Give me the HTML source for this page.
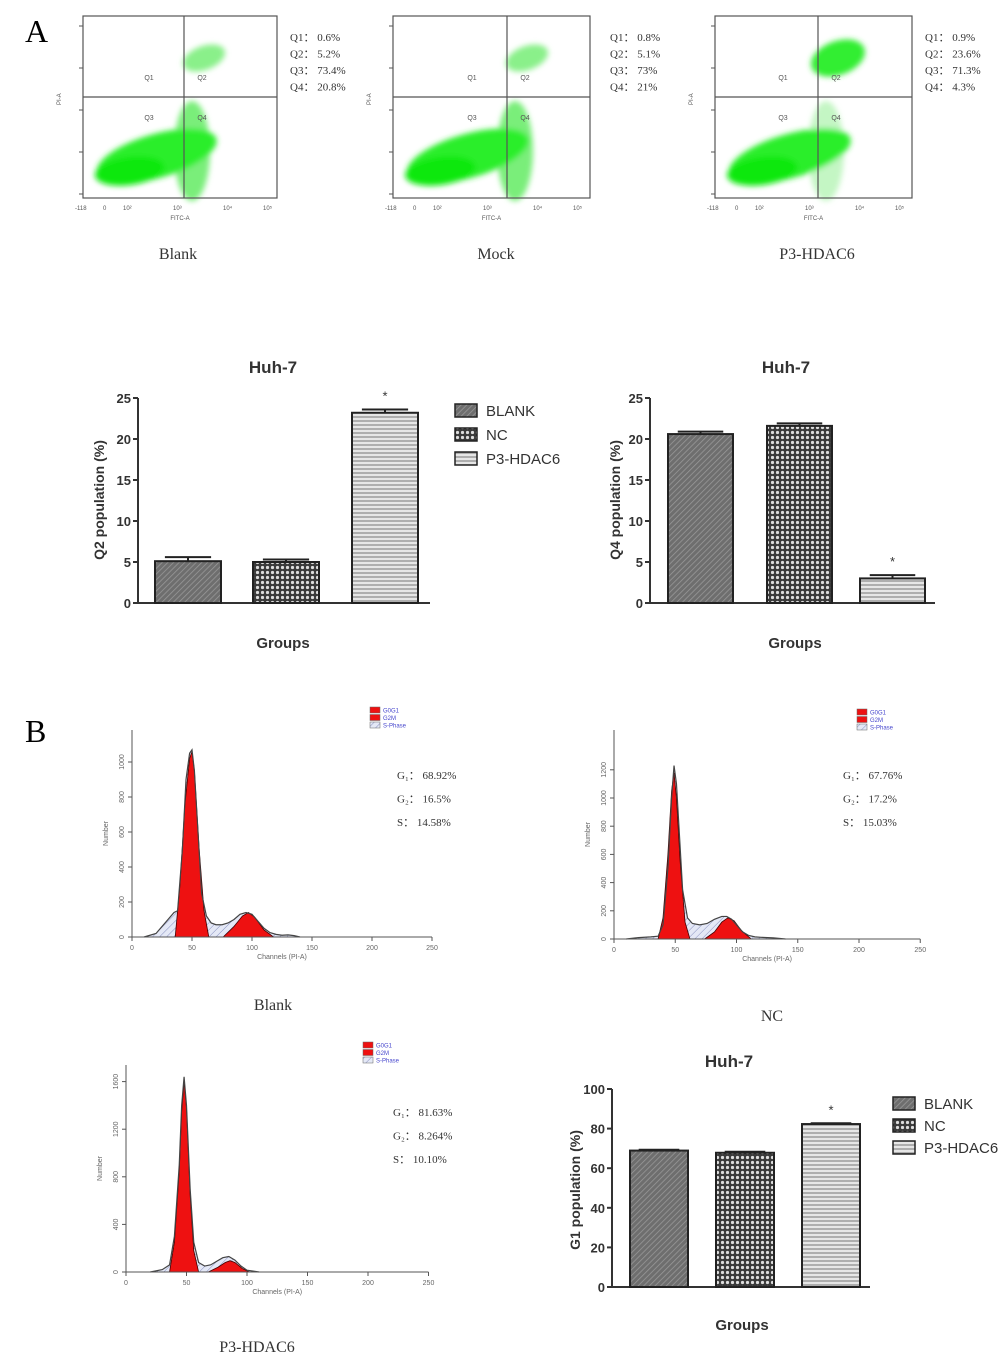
<!DOCTYPE html>
<html><head><meta charset="utf-8"><style>
body{margin:0;background:#fff}
svg{display:block}
text{font-family:"Liberation Sans",sans-serif}
.serif{font-family:"Liberation Serif",serif}
</style></head><body>
<svg id="fig" width="1004" height="1368" viewBox="0 0 1004 1368" xmlns="http://www.w3.org/2000/svg">
<defs>
<pattern id="pBlank" width="4" height="4" patternUnits="userSpaceOnUse" patternTransform="rotate(45)"><rect width="4" height="4" fill="#6e6e6e"/><line x1="0" y1="0" x2="0" y2="4" stroke="#9a9a9a" stroke-width="1.5"/></pattern>
<pattern id="pNC" width="5" height="5" patternUnits="userSpaceOnUse"><rect width="5" height="5" fill="#3a3a3a"/><circle cx="2.5" cy="2.5" r="1.6" fill="#ddd"/></pattern>
<pattern id="pP3" width="4" height="4" patternUnits="userSpaceOnUse"><rect width="4" height="4" fill="#e6e6e6"/><line x1="0" y1="1" x2="4" y2="1" stroke="#888" stroke-width="1.2"/></pattern>
<pattern id="pS" width="5" height="5" patternUnits="userSpaceOnUse" patternTransform="rotate(45)"><rect width="5" height="5" fill="#e4e8f6"/><line x1="0" y1="0" x2="0" y2="5" stroke="#8890c0" stroke-width="1"/></pattern>
<filter id="blur"><feGaussianBlur stdDeviation="3"/></filter>
</defs>
<g id="root"></g>
</svg>
<script>
// ---- bar chart data ----
const groups = ["BLANK","NC","P3-HDAC6"];
const q2Values = [5.1, 5.0, 23.2];
const q2Errors = [0.5, 0.3, 0.4];
const q4Values = [20.6, 21.6, 3.0];
const q4Errors = [0.3, 0.3, 0.4];
const g1Values = [68.9, 67.8, 82.3];
const g1Errors = [0.4, 0.5, 0.4];
const q2Ticks = [0,5,10,15,20,25];
const g1Ticks = [0,20,40,60,80,100];
// ---- scatter quadrant stats ----
const scatterLabels = ["Blank","Mock","P3-HDAC6"];
const scatterQ = [["0.6%","5.2%","73.4%","20.8%"],["0.8%","5.1%","73%","21%"],["0.9%","23.6%","71.3%","4.3%"]];
// ---- histogram data ----
const envCh1 = [10,20,25,30,35,38,42,45,48,50,52,55,58,62,66,70,75,80,85,90,95,100,105,110,115,120,125,130,135,140];
const envCt1 = [0,20,60,100,140,150,500,900,1050,1070,950,600,250,120,80,70,70,80,100,130,140,130,90,50,25,15,10,12,8,0];
const g1Ch1 = [36,40,44,48,50,52,56,60,64];
const g1Ct1 = [0,300,750,1020,1060,950,500,150,0];
const g2Ch1 = [76,85,92,97,102,110,118];
const g2Ct1 = [0,60,120,140,115,40,0];
const envCh2 = [10,20,30,36,40,44,47,49,51,53,56,60,64,70,76,82,88,92,96,100,105,110,115,120,130,140];
const envCt2 = [0,10,15,20,100,500,1000,1230,1100,800,350,150,110,100,110,140,160,160,140,100,50,25,15,12,8,0];
const g1Ch2 = [36,40,44,47,49,51,54,58,62];
const g1Ct2 = [0,150,600,1050,1180,1000,550,120,0];
const g2Ch2 = [74,82,88,93,98,104,112];
const g2Ct2 = [0,50,120,150,130,60,0];
const envCh3 = [20,30,36,40,44,46,48,50,53,56,60,65,70,75,80,85,90,95,100,110];
const envCt3 = [0,20,60,300,900,1400,1640,1400,700,250,80,50,60,90,120,130,100,50,15,0];
const g1Ch3 = [36,40,44,46,48,50,53,56,60];
const g1Ct3 = [0,250,850,1350,1600,1380,650,180,0];
const g2Ch3 = [68,76,82,86,90,96,102];
const g2Ct3 = [0,40,80,95,80,30,0];
const phaseStats = [["68.92%","16.5%","14.58%"],["67.76%","17.2%","15.03%"],["81.63%","8.264%","10.10%"]];
const histNames = ["Blank","NC","P3-HDAC6"];

const NS="http://www.w3.org/2000/svg";
const root=document.getElementById('root');
function el(tag,attrs,parent,txt){const e=document.createElementNS(NS,tag);for(const k in attrs)e.setAttribute(k,attrs[k]);if(txt!==undefined)e.textContent=txt;(parent||root).appendChild(e);return e;}

let t=el('text',{x:25,y:42,'font-size':32,class:'serif'},root,'A');


t=el('text',{x:25,y:742,'font-size':32,class:'serif'},root,'B');



// ---- scatter plots ----
const scat=[{x0:83,x1:277,qx:184,text:290,lab:178},{x0:393,x1:590,qx:507,text:610,lab:496},{x0:715,x1:912,qx:818,text:925,lab:817}];
scat.forEach((s,i)=>{
  const g=el('g',{});
  
  
  const y0=16,y1=198,qy=97,w=s.x1-s.x0;
  const bl=el('g',{filter:'url(#blur)'},g);
  el('ellipse',{cx:s.qx+8,cy:y0+135,rx:18,ry:50,fill:i==2?'#c4f6c4':'#7aee7a'},bl);
  el('ellipse',{cx:s.x0+w*0.38,cy:y0+140,rx:w*0.32,ry:22,fill:'#2aee2a',transform:`rotate(-16 ${s.x0+w*0.38} ${y0+140})`},bl);
  el('ellipse',{cx:s.qx+20,cy:y0+42,rx:i==2?28:22,ry:i==2?17:12,fill:i==2?'#33ee33':'#8af08a',transform:`rotate(-20 ${s.qx+20} ${y0+42})`},bl);
  el('ellipse',{cx:s.x0+w*0.24,cy:y0+155,rx:w*0.18,ry:14,fill:'#11e811',transform:`rotate(-8 ${s.x0+w*0.24} ${y0+155})`},bl);
  el('rect',{x:s.x0,y:y0,width:w,height:y1-y0,fill:'none',stroke:'#555','stroke-width':1.2},g);
  el('line',{x1:s.qx,y1:y0,x2:s.qx,y2:y1,stroke:'#555','stroke-width':1.2},g);
  el('line',{x1:s.x0,y1:qy,x2:s.x1,y2:qy,stroke:'#555','stroke-width':1.2},g);
  [['Q1',s.qx-35,qy-17],['Q2',s.qx+18,qy-17],['Q3',s.qx-35,qy+23],['Q4',s.qx+18,qy+23]].forEach(q=>el('text',{x:q[1],y:q[2],'font-size':7,fill:'#555','text-anchor':'middle'},g,q[0]));
  for(let k=0;k<5;k++){el('line',{x1:s.x0-4,y1:y0+10+k*42,x2:s.x0,y2:y0+10+k*42,stroke:'#555'},g);}
  el('text',{x:s.x0-22,y:105,'font-size':6,fill:'#555',transform:`rotate(-90 ${s.x0-22} 105)`},g,'PI-A');
  el('text',{x:(s.x0+s.x1)/2,y:y1+22,'font-size':6,fill:'#555','text-anchor':'middle'},g,'FITC-A');
  ['-118','0','10\u00b2','10\u00b3','10\u2074','10\u2075'].forEach((l,k)=>el('text',{x:s.x0+[0,20,40,90,140,180][k]+(k==0?-8:0),y:y1+12,'font-size':6,fill:'#555'},g,l));
  ['Q1','Q2','Q3','Q4'].forEach((q,k)=>el('text',{x:s.text,y:41+k*16.5,'font-size':11,class:'serif',fill:'#333'},g,q+'\uff1a '+scatterQ[i][k]));
  const lb=el('text',{x:s.lab,y:259,'font-size':16,class:'serif','text-anchor':'middle',fill:'#333'},g,scatterLabels[i]);
  
  
});

// ---- bar charts ----
const pats=['url(#pBlank)','url(#pNC)','url(#pP3)'];
function barChart(o){
  const g=el('g',{});
  
  
  const yS=v=>o.yb-(v/o.max)*(o.yb-o.yt);
  el('text',{x:o.tx,y:o.ty,'font-size':17,'font-weight':'bold','text-anchor':'middle',fill:'#333'},g,'Huh-7');
  el('line',{x1:o.ax,y1:o.yt,x2:o.ax,y2:o.yb,stroke:'#333','stroke-width':2},g);
  el('line',{x1:o.ax,y1:o.yb,x2:o.xe,y2:o.yb,stroke:'#333','stroke-width':2},g);
  o.ticks.forEach(v=>{el('line',{x1:o.ax-5,y1:yS(v),x2:o.ax,y2:yS(v),stroke:'#333','stroke-width':2},g);
    el('text',{x:o.ax-7,y:yS(v)+5,'font-size':13,'font-weight':'bold','text-anchor':'end',fill:'#333'},g,v);});
  el('text',{x:o.yl,y:o.ylc,'font-size':14,'font-weight':'bold','text-anchor':'middle',fill:'#333',transform:`rotate(-90 ${o.yl} ${o.ylc})`},g,o.ylabel);
  el('text',{x:o.gx,y:o.gy,'font-size':15,'font-weight':'bold','text-anchor':'middle',fill:'#333'},g,'Groups');
  o.vals.forEach((v,k)=>{
    const x=o.bx[k];
    const r=el('rect',{x:x,y:yS(v),width:o.bw,height:o.yb-yS(v),fill:pats[k],stroke:'#222','stroke-width':2},g);
    
    
    const e=yS(v+o.errs[k]);
    el('line',{x1:x+o.bw/2,y1:yS(v),x2:x+o.bw/2,y2:e,stroke:'#222','stroke-width':2},g);
    el('line',{x1:x+o.bw*0.15,y1:e,x2:x+o.bw*0.85,y2:e,stroke:'#222','stroke-width':2},g);
    if(k==o.star) el('text',{x:x+o.bw/2,y:e-9,'font-size':13,'text-anchor':'middle',fill:'#333'},g,'*');
  });
  if(o.leg){groups.forEach((n,k)=>{
    const le=el('g',{},g);
    
    
    el('rect',{x:o.leg[0],y:o.leg[1]+k*o.leg[2],width:22,height:13,fill:pats[k],stroke:'#222','stroke-width':1.5},le);
    el('text',{x:o.leg[0]+31,y:o.leg[1]+k*o.leg[2]+12,'font-size':15,fill:'#333'},le,n);});}
}
barChart({name:'q2-bar-chart',tx:273,ty:373,ax:138,yt:398,yb:603,xe:430,max:25,ticks:q2Ticks,vals:q2Values,errs:q2Errors,bx:[155,253,352],bw:66,star:2,yl:104,ylc:500,ylabel:'Q2 population (%)',gx:283,gy:648,leg:[455,404,24]});
barChart({name:'q4-bar-chart',tx:786,ty:373,ax:650,yt:398,yb:603,xe:935,max:25,ticks:q2Ticks,vals:q4Values,errs:q4Errors,bx:[668,767,860],bw:65,star:2,yl:620,ylc:500,ylabel:'Q4 population (%)',gx:795,gy:648});
barChart({name:'g1-bar-chart',tx:729,ty:1067,ax:612,yt:1089,yb:1287,xe:870,max:100,ticks:g1Ticks,vals:g1Values,errs:g1Errors,bx:[630,716,802],bw:58,star:2,yl:580,ylc:1190,ylabel:'G1 population (%)',gx:742,gy:1330,leg:[893,1097,22]});

// ---- histograms ----
function hist(o){
  const g=el('g',{});
  
  
  const xS=c=>o.x0+c*o.kx, yS=v=>o.yb-v*o.ky;
  const path=(ch,ct)=>'M'+ch.map((c,k)=>xS(c)+','+yS(ct[k])).join('L');
  el('path',{d:path(o.env[0],o.env[1])+'Z',fill:'url(#pS)',stroke:'none'},g);
  el('path',{d:path(o.g1[0],o.g1[1])+'Z',fill:'#ee1111',stroke:'#400','stroke-width':0.8},g);
  el('path',{d:path(o.g2[0],o.g2[1])+'Z',fill:'#ee1111',stroke:'#400','stroke-width':0.8},g);
  el('path',{d:path(o.env[0],o.env[1]),fill:'none',stroke:'#444','stroke-width':1.2},g);
  el('line',{x1:o.x0,y1:o.yt,x2:o.x0,y2:o.yb,stroke:'#555'},g);
  el('line',{x1:o.x0,y1:o.yb,x2:xS(250),y2:o.yb,stroke:'#555'},g);
  [0,50,100,150,200,250].forEach(c=>{el('line',{x1:xS(c),y1:o.yb,x2:xS(c),y2:o.yb+4,stroke:'#555'},g);
    el('text',{x:xS(c),y:o.yb+13,'font-size':7,'text-anchor':'middle',fill:'#666'},g,c);});
  o.yt2.forEach(v=>{el('line',{x1:o.x0-4,y1:yS(v),x2:o.x0,y2:yS(v),stroke:'#555'},g);
    el('text',{x:o.x0-8,y:yS(v),'font-size':7,'text-anchor':'middle',fill:'#666',transform:`rotate(-90 ${o.x0-8} ${yS(v)})`},g,v);});
  el('text',{x:xS(125),y:o.yb+22,'font-size':7,'text-anchor':'middle',fill:'#666'},g,'Channels (PI-A)');
  const ny=(o.yb+o.yt)/2;
  el('text',{x:o.x0-24,y:ny,'font-size':7,'text-anchor':'middle',fill:'#666',transform:`rotate(-90 ${o.x0-24} ${ny})`},g,'Number');
  ['G0G1','G2M','S-Phase'].forEach((n,k)=>{el('rect',{x:o.lx,y:o.ly+k*7.5,width:10,height:6,fill:k<2?'#e11':'url(#pS)',stroke:'#666','stroke-width':0.5},g);
    el('text',{x:o.lx+13,y:o.ly+k*7.5+5.5,'font-size':6,fill:'#44c'},g,n);});
  ['G\u2081\uff1a','G\u2082\uff1a','S\uff1a'].forEach((n,k)=>el('text',{x:o.sx,y:o.sy+k*23.5,'font-size':11,class:'serif',fill:'#333'},g,n+' '+o.stats[k]));
  el('text',{x:o.nx,y:o.ny,'font-size':16,class:'serif','text-anchor':'middle',fill:'#333'},g,o.label);
}
hist({name:'histogram-blank',x0:132,kx:1.2,yb:937,ky:0.175,yt:730,yt2:[0,200,400,600,800,1000],env:[envCh1,envCt1],g1:[g1Ch1,g1Ct1],g2:[g2Ch1,g2Ct1],lx:370,ly:707,sx:397,sy:779,stats:phaseStats[0],nx:273,ny:1010,label:histNames[0]});
hist({name:'histogram-nc',x0:614,kx:1.225,yb:939,ky:0.141,yt:730,yt2:[0,200,400,600,800,1000,1200],env:[envCh2,envCt2],g1:[g1Ch2,g1Ct2],g2:[g2Ch2,g2Ct2],lx:857,ly:709,sx:843,sy:779,stats:phaseStats[1],nx:772,ny:1021,label:histNames[1]});
hist({name:'histogram-p3-hdac6',x0:126,kx:1.21,yb:1272,ky:0.119,yt:1065,yt2:[0,400,800,1200,1600],env:[envCh3,envCt3],g1:[g1Ch3,g1Ct3],g2:[g2Ch3,g2Ct3],lx:363,ly:1042,sx:393,sy:1116,stats:phaseStats[2],nx:257,ny:1352,label:histNames[2]});
</script>
</body></html>
